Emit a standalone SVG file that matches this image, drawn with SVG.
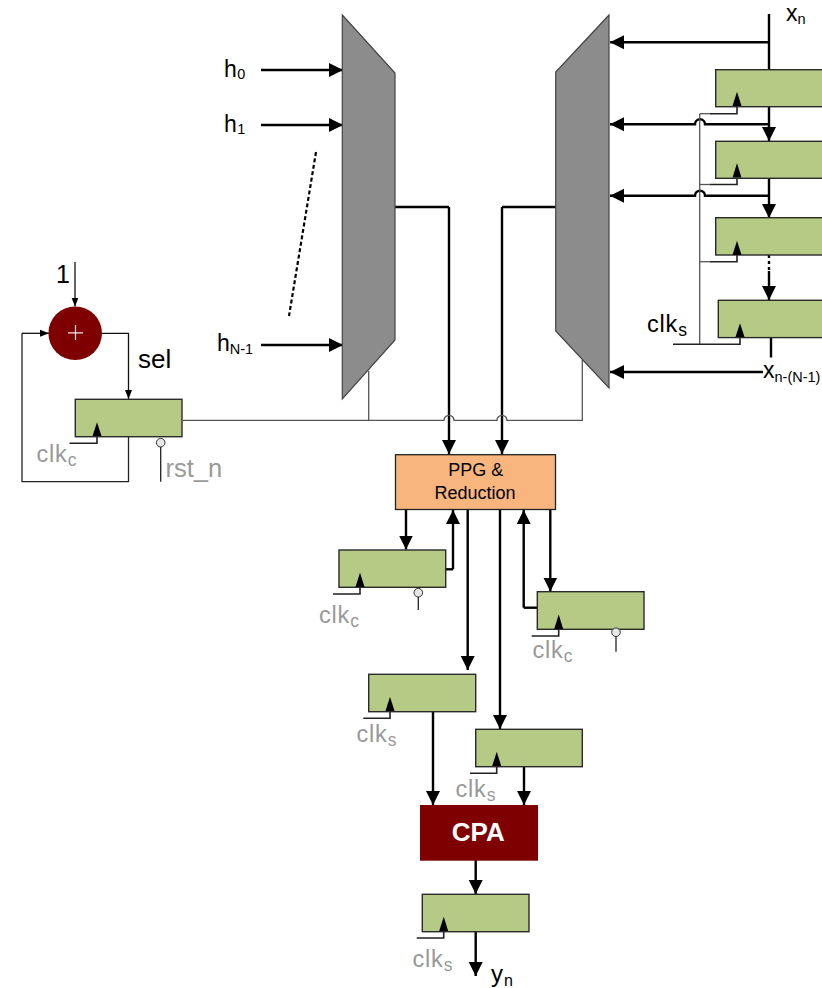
<svg xmlns="http://www.w3.org/2000/svg" width="822" height="988" viewBox="0 0 822 988">
<defs>
<marker id="ah" markerUnits="userSpaceOnUse" markerWidth="15" markerHeight="15" refX="14" refY="7.5" orient="auto"><path d="M0,0.500 L14,7.500 L0,14.500 Z" fill="#000"/></marker>
<marker id="as" markerUnits="userSpaceOnUse" markerWidth="10" markerHeight="8" refX="9" refY="4" orient="auto"><path d="M0,0.500 L9,4 L0,7.500 Z" fill="#000"/></marker>
</defs>
<style>
text{font-family:"Liberation Sans",Arial,sans-serif}
.r{fill:#b5cb85;stroke:#2a2a2a;stroke-width:1.4}
.m{fill:#8c8c8c;stroke:#444;stroke-width:1.2}
.b{fill:none;stroke:#000;stroke-width:2.4}
.ba{fill:none;stroke:#000;stroke-width:2.4;marker-end:url(#ah)}
.t{fill:none;stroke:#222;stroke-width:1.3}
.g{fill:none;stroke:#555;stroke-width:1.3}
.ta{fill:none;stroke:#111;stroke-width:1.3;marker-end:url(#as)}
.ck{fill:none;stroke:#222;stroke-width:1.6}
.tri{fill:#000}
.l{font-size:23px;fill:#000}
.gl{font-size:23.500px;fill:#999;letter-spacing:0.8px}
.c{font-size:23.500px;letter-spacing:0.8px}
.sub{font-size:14.500px}
.sc{font-size:17.500px}
.bub{fill:#e6e6e6;stroke:#333;stroke-width:1}
</style>
<g id="connectors">
<path class="ba" d="M261,70 H343"/>
<path class="ba" d="M261,125 H343"/>
<path d="M316,152 L289,316" fill="none" stroke="#000" stroke-width="2.2" stroke-dasharray="4 2.500"/>
<path class="ba" d="M261,345 H343"/>
<path class="b" d="M769,14 V70"/>
<path class="ba" d="M769,42.300 H610"/>
<path class="ba" d="M769,107 V141"/>
<path class="ba" d="M769,124.300 H705 A5,5 0 0 0 695,124.300 H610"/>
<path class="ba" d="M769,178 V218"/>
<path class="ba" d="M769,195.700 H705 A5,5 0 0 0 695,195.700 H610"/>
<path d="M769,255 V270" fill="none" stroke="#000" stroke-width="2.400" stroke-dasharray="3 3"/>
<path class="ba" d="M769,271 V300"/>
<path class="b" d="M771,337 V357.500"/>
<path class="ba" d="M763,372 H610"/>
<path class="g" d="M699.700,113.700 V344"/>
<path class="g" d="M699.700,113.700 H710"/>
<path class="g" d="M699.700,184.500 H710"/>
<path class="g" d="M699.700,261.700 H710"/>
<path class="ck" d="M710,113.700 H737 V100"/>
<path class="ck" d="M710,184.500 H737 V172"/>
<path class="ck" d="M710,261.700 H737 V248"/>
<path class="ck" d="M673,344.300 H740 V330"/>
<path class="b" d="M395,207 H449"/>
<path class="ba" d="M449,207 V454"/>
<path class="b" d="M556,207 H502"/>
<path class="ba" d="M502,207 V454"/>
<path class="g" d="M183,420.300 H444 A5,5 0 0 1 454,420.300 H497 A5,5 0 0 1 507,420.300 H582.300 V360"/>
<path class="g" d="M368.700,420 V371"/>
<path class="ta" d="M75,262 V306.500"/>
<path class="ta" d="M102,333.300 H128.500 V399"/>
<path class="t" d="M128.500,437 V481.700 H22 V333.300"/>
<path class="ta" d="M22,333.300 H49"/>
<path class="ck" d="M69.500,443.300 H97 V428"/>
<path class="t" d="M160.700,447 V481.700"/>
<path class="ba" d="M406,509 V549.500"/>
<path class="b" d="M446,569.300 H453"/>
<path class="ba" d="M453,569.300 V510"/>
<path class="ba" d="M467.700,509 V670"/>
<path class="ba" d="M500,509 V729"/>
<path class="ba" d="M550.300,509 V591.500"/>
<path class="b" d="M537,607.700 H523.700"/>
<path class="ba" d="M523.700,607.700 V510"/>
<path class="ck" d="M333,594 H360 V578"/>
<path class="t" d="M418.300,597 V610"/>
<path class="ck" d="M531.700,636 H558.700 V620"/>
<path class="t" d="M616,636 V651.700"/>
<path class="ba" d="M433,712 V805"/>
<path class="ba" d="M524,767 V805"/>
<path class="ck" d="M363.300,718.300 H390 V703"/>
<path class="ck" d="M470,773.300 H496.700 V758"/>
<path class="ba" d="M475.700,860 V894"/>
<path class="ba" d="M475.700,932 V976"/>
<path class="ck" d="M416.700,938 H443.700 V923"/>
</g>
<g id="mux-h"><path class="m" d="M342.300,15 L395,73 V340 L342.300,399 Z"/></g>
<g id="mux-x"><path class="m" d="M609,15 L555.700,72 V331 L609,388 Z"/></g>
<g id="reg-x0"><rect class="r" x="715.700" y="69.700" width="110" height="37"/></g>
<g id="reg-x1"><rect class="r" x="715.700" y="141.300" width="110" height="37"/></g>
<g id="reg-x2"><rect class="r" x="715.700" y="217.700" width="110" height="37.300"/></g>
<g id="reg-x3"><rect class="r" x="718.300" y="300.300" width="110" height="37.300"/></g>
<g id="adder"><circle cx="75.200" cy="333.300" r="26.800" fill="#7f0000"/><path d="M68,332.800 H83 M75.500,325 V340" stroke="#f5e5e5" stroke-width="1.200" fill="none"/></g>
<g id="reg-sel"><rect class="r" x="75.300" y="399.300" width="106.700" height="37.400"/><circle class="bub" cx="160.700" cy="442.700" r="4.300"/></g>
<g id="ppg"><rect x="395.500" y="454.700" width="160" height="54.800" fill="#f8b57d" stroke="#222" stroke-width="1.300"/><text x="475.700" y="476" font-size="18" text-anchor="middle">PPG &amp;</text><text x="475" y="499" font-size="18" text-anchor="middle">Reduction</text></g>
<g id="reg-l"><rect class="r" x="339" y="550" width="106.700" height="37.300"/><circle class="bub" cx="418.300" cy="592.700" r="4.300"/></g>
<g id="reg-r"><rect class="r" x="537.300" y="591.700" width="106.700" height="37.600"/><circle class="bub" cx="616" cy="632.300" r="4.300"/></g>
<g id="reg-s1"><rect class="r" x="368.700" y="674.300" width="107" height="37.400"/></g>
<g id="reg-s2"><rect class="r" x="475.700" y="729.300" width="106.600" height="37.400"/></g>
<g id="cpa"><rect x="420" y="805" width="118" height="55.700" fill="#7f0000"/><text x="478.300" y="841" font-size="26" font-weight="bold" fill="#fff" text-anchor="middle">CPA</text></g>
<g id="reg-y"><rect class="r" x="422.300" y="894.300" width="106.700" height="37.400"/></g>
<g id="clock-tips">
<path class="tri" d="M737,91.700 L732.500,106 H741.500 Z"/>
<path class="tri" d="M737,163.300 L732.500,177.500 H741.500 Z"/>
<path class="tri" d="M737,240.700 L732.500,255 H741.500 Z"/>
<path class="tri" d="M740,323.300 L735.500,337 H744.500 Z"/>
<path class="tri" d="M97,422.300 L92.500,436 H101.500 Z"/>
<path class="tri" d="M360,572.500 L355.500,587 H364.500 Z"/>
<path class="tri" d="M558.700,614.500 L554.200,629 H563.200 Z"/>
<path class="tri" d="M390,696.700 L385.500,711 H394.500 Z"/>
<path class="tri" d="M496.700,751.700 L492.200,766 H501.200 Z"/>
<path class="tri" d="M443.700,916.700 L439.200,931 H448.200 Z"/>
</g>
<g id="labels">
<text class="l" x="224" y="76.500">h<tspan class="sub" dy="2.500" dx="0.500">0</tspan></text>
<text class="l" x="224" y="131.500">h<tspan class="sub" dy="2.500" dx="0.500">1</tspan></text>
<text class="l" x="217" y="350.500">h<tspan class="sub" dy="3.500">N-1</tspan></text>
<text class="l" x="786" y="21">x<tspan class="sub" dy="3">n</tspan></text>
<text class="l" x="763" y="378">x<tspan class="sub" dy="3.700">n-(N-1)</tspan></text>
<text class="c" x="647" y="332">clk<tspan class="sc" dy="4">s</tspan></text>
<text x="56" y="283" font-size="25">1</text>
<text x="138" y="368" font-size="26">sel</text>
<text class="gl" x="36.500" y="462">clk<tspan class="sc" dy="4">c</tspan></text>
<text class="gl" x="165.500" y="476.500" style="font-size:25.500px;letter-spacing:0">rst_n</text>
<text class="gl" x="319" y="623">clk<tspan class="sc" dy="4">c</tspan></text>
<text class="gl" x="532.500" y="658">clk<tspan class="sc" dy="4">c</tspan></text>
<text class="gl" x="356.500" y="741.500">clk<tspan class="sc" dy="4">s</tspan></text>
<text class="gl" x="455.500" y="797">clk<tspan class="sc" dy="4">s</tspan></text>
<text class="gl" x="412.500" y="967">clk<tspan class="sc" dy="4">s</tspan></text>
<text x="491" y="982" font-size="24">y<tspan font-size="16" dy="4" dx="1">n</tspan></text>
</g>
</svg>
